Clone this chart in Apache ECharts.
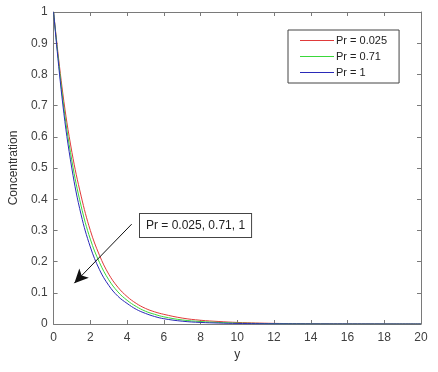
<!DOCTYPE html>
<html><head><meta charset="utf-8">
<script src="https://cdn.jsdelivr.net/npm/echarts@6/dist/echarts.min.js"></script>
<style>html,body{margin:0;padding:0;background:#fff}#c{width:438px;height:372px}</style>
</head><body><div id="c"></div>
<script>
var xs    = [0, 0.5, 1, 1.5, 2, 2.5, 3, 3.5, 4, 4.5, 5, 5.5, 6, 7, 8, 9, 10, 12, 14, 16, 18, 20];
var prRed   = [1, 0.740, 0.550, 0.410, 0.300, 0.220, 0.160, 0.118, 0.088, 0.066, 0.050, 0.039, 0.031, 0.019, 0.012, 0.008, 0.005, 0.002, 0.001, 0.0004, 0.0002, 0];
var prGreen = [1, 0.722, 0.522, 0.378, 0.272, 0.197, 0.142, 0.103, 0.076, 0.056, 0.041, 0.031, 0.023, 0.013, 0.008, 0.005, 0.003, 0.0012, 0.0004, 0.0001, 0, 0];
var prBlue  = [1, 0.705, 0.497, 0.350, 0.247, 0.174, 0.124, 0.089, 0.066, 0.047, 0.034, 0.024, 0.017, 0.009, 0.005, 0.003, 0.0018, 0.0007, 0.0002, 0.0001, 0, 0];
var seriesNames = ['Pr = 0.025', 'Pr = 0.71', 'Pr = 1'];
var annotationText = 'Pr = 0.025, 0.71, 1';
var arrowFrom = [4.25, 0.32];
var arrowTo = [1.13, 0.131];

var FONT = 'Liberation Sans, Arial, sans-serif';
var AX = '#7a7a7a';
function pairs(ys){ return xs.map(function(x,i){ return [x, ys[i]]; }); }
var colors = ['#e03a3a', '#3ad83a', '#2a2ab8'];
var chart = echarts.init(document.getElementById('c'), null, {renderer:'canvas'});
function line(name, ys, color){
  return {name:name, type:'line', data:pairs(ys), showSymbol:false, symbol:'none', smooth:0.4,
    lineStyle:{color:color, width:1}, itemStyle:{color:color}, xAxisIndex:0, yAxisIndex:0, animation:false, z:3};
}
var series = [line(seriesNames[0], prRed, colors[0]), line(seriesNames[1], prGreen, colors[1]), line(seriesNames[2], prBlue, colors[2])];
series[0].markLine = {silent:true, symbol:['none','arrow'], symbolSize:[10,14], animation:false,
  lineStyle:{color:'#111', width:1, type:'solid'}, label:{show:false},
  data:[[{coord:arrowFrom},{coord:arrowTo}]]};
var axisCommon = {
  axisLine:{show:true, onZero:false, lineStyle:{color:AX, width:1}},
  axisTick:{show:true, inside:true, length:4, lineStyle:{color:AX}},
  splitLine:{show:false}
};
chart.setOption({
  backgroundColor:'#fff',
  animation:false,
  grid:{left:49, right:17, top:12, bottom:48, containLabel:false},
  legend:{orient:'vertical', left:288, top:30, width:100, padding:[5,12,5,12], itemGap:5,
    itemWidth:34, itemHeight:1, icon:'rect', backgroundColor:'#fff', borderColor:'#444', borderWidth:1,
    textStyle:{fontFamily:FONT, fontSize:11, color:'#222', padding:[0,0,0,-3]}, data:seriesNames},
  xAxis:[
    Object.assign({type:'value', min:0, max:20, interval:2, position:'bottom', name:'y', nameLocation:'middle', nameGap:25,
      nameTextStyle:{fontFamily:FONT, fontSize:12, color:'#333'},
      axisLabel:{fontFamily:FONT, fontSize:12, color:'#404040', margin:8}}, axisCommon),
    Object.assign({type:'value', min:0, max:20, interval:2, position:'top', axisLabel:{show:false}}, axisCommon)
  ],
  yAxis:[
    Object.assign({type:'value', min:0, max:1, interval:0.1, position:'left', name:'Concentration', nameLocation:'middle', nameGap:21,
      nameTextStyle:{fontFamily:FONT, fontSize:12, color:'#333'},
      axisLabel:{fontFamily:FONT, fontSize:12, color:'#404040', margin:6}}, axisCommon),
    Object.assign({type:'value', min:0, max:1, interval:0.1, position:'right', axisLabel:{show:false}}, axisCommon)
  ],
  series:series
});
chart.setOption({graphic:[{type:'text', left:139, top:213, z:10,
  style:{text:annotationText, font:'12px ' + FONT, fill:'#222', backgroundColor:'#fff',
    borderColor:'#444', borderWidth:1, padding:[6,6,5,6]}}]});
</script></body></html>
